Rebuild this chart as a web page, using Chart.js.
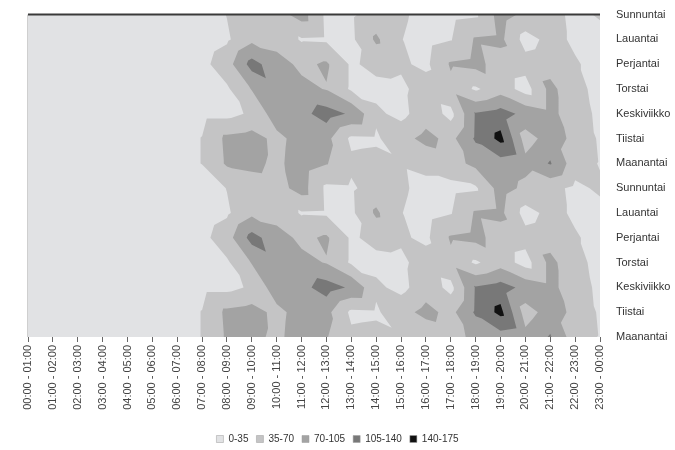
<!DOCTYPE html>
<html>
<head>
<meta charset="utf-8">
<script src="https://cdn.jsdelivr.net/npm/chart.js@4/dist/chart.umd.min.js"></script>
<style>
  html, body { margin: 0; padding: 0; background: #fff; }
  #wrap { width: 675px; height: 450px; }
</style>
</head>
<body>
<div id="wrap"><canvas id="chart" width="675" height="450"></canvas></div>
<script>
// Tunnit (x-akseli)
const hours = [
  '00:00 - 01:00', '01:00 - 02:00', '02:00 - 03:00', '03:00 - 04:00', '04:00 - 05:00', '05:00 - 06:00',
  '06:00 - 07:00', '07:00 - 08:00', '08:00 - 09:00', '09:00 - 10:00', '10:00 - 11:00', '11:00 - 12:00',
  '12:00 - 13:00', '13:00 - 14:00', '14:00 - 15:00', '15:00 - 16:00', '16:00 - 17:00', '17:00 - 18:00',
  '18:00 - 19:00', '19:00 - 20:00', '20:00 - 21:00', '21:00 - 22:00', '22:00 - 23:00', '23:00 - 00:00'
];

// Päivät ylhäältä alas, kuten kuvassa
const days = [
  'Sunnuntai', 'Lauantai', 'Perjantai', 'Torstai', 'Keskiviikko', 'Tiistai', 'Maanantai',
  'Sunnuntai', 'Lauantai', 'Perjantai', 'Torstai', 'Keskiviikko', 'Tiistai', 'Maanantai'
];

// Arvot per rivi (ylhäältä alas), 24 tuntia
const sunnuntai1   = [10, 9, 8, 8, 9, 11, 13, 15, 36, 50, 55, 85, 28, 30, 50, 40, 25, 25, 30, 85, 62, 45, 28, 38];
const lauantai1    = [11, 10, 9, 9, 10, 12, 14, 16, 30, 62, 55, 32, 30, 28, 76, 36, 22, 33, 74, 78, 22, 45, 30, 25];
const perjantai1   = [12, 11, 10, 10, 11, 13, 15, 25, 55, 118, 85, 62, 75, 30, 45, 40, 28, 74, 80, 55, 48, 55, 38, 25];
const torstai1     = [14, 12, 11, 11, 12, 14, 16, 20, 30, 72, 95, 80, 68, 30, 25, 28, 50, 60, 30, 55, 20, 80, 45, 25];
const keskiviikko1 = [15, 13, 12, 12, 13, 15, 18, 25, 25, 40, 90, 95, 120, 100, 42, 25, 55, 25, 108, 120, 95, 80, 50, 28];
const tiistai1     = [14, 13, 12, 12, 13, 15, 20, 36, 78, 85, 60, 85, 80, 28, 30, 58, 80, 60, 110, 150, 55, 85, 62, 30];
const maanantai1   = [13, 12, 11, 11, 12, 14, 20, 36, 75, 80, 62, 88, 72, 42, 45, 38, 45, 55, 80, 90, 80, 108, 50, 33];
const sunnuntai2   = [10, 9, 8, 8, 9, 11, 13, 15, 36, 50, 55, 85, 28, 30, 50, 40, 25, 25, 30, 85, 62, 45, 28, 40];
const lauantai2    = [11, 10, 9, 9, 10, 12, 14, 16, 30, 62, 55, 32, 30, 28, 76, 36, 22, 33, 74, 78, 22, 45, 30, 25];
const perjantai2   = [12, 11, 10, 10, 11, 13, 15, 25, 55, 118, 85, 62, 75, 30, 45, 40, 28, 74, 80, 55, 48, 55, 38, 25];
const torstai2     = [14, 12, 11, 11, 12, 14, 16, 20, 30, 72, 95, 80, 68, 30, 25, 28, 50, 60, 30, 55, 20, 80, 45, 25];
const keskiviikko2 = [15, 13, 12, 12, 13, 15, 18, 25, 25, 40, 90, 95, 120, 100, 42, 25, 55, 25, 108, 120, 95, 80, 50, 28];
const tiistai2     = [14, 13, 12, 12, 13, 15, 20, 36, 78, 85, 60, 85, 80, 28, 30, 58, 80, 60, 110, 150, 55, 85, 62, 30];
const maanantai2   = [13, 12, 11, 11, 12, 14, 20, 36, 75, 80, 62, 88, 72, 42, 45, 38, 45, 55, 80, 90, 80, 108, 50, 33];

const rows = [sunnuntai1, lauantai1, perjantai1, torstai1, keskiviikko1, tiistai1, maanantai1,
              sunnuntai2, lauantai2, perjantai2, torstai2, keskiviikko2, tiistai2, maanantai2];

// Tasot ja selitteet
const levels = [0, 35, 70, 105, 140];
const bandLabels = ['0-35', '35-70', '70-105', '105-140', '140-175'];
const bandColors = ['#e1e2e4', '#c4c4c5', '#a3a3a3', '#787878', '#111111'];

// Leikkaa kolmio alueeseen v >= lo (lineaarinen interpolointi)
function clipAbove(poly, lo) {
  const out = [];
  for (let n = 0; n < poly.length; n++) {
    const a = poly[n], b = poly[(n + 1) % poly.length];
    const ina = a[2] >= lo, inb = b[2] >= lo;
    if (ina) out.push(a);
    if (ina !== inb) {
      const t = (lo - a[2]) / (b[2] - a[2]);
      out.push([a[0] + t * (b[0] - a[0]), a[1] + t * (b[1] - a[1]), lo]);
    }
  }
  return out;
}

const contourPlugin = {
  id: 'contour',
  beforeDatasetsDraw(chart) {
    const { ctx, chartArea, scales: { x, y } } = chart;
    const top = rows.length - 1;
    const val = (i, j) => [i, top - j, rows[j][i]];
    ctx.save();
    levels.forEach((lo, k) => {
      ctx.beginPath();
      for (let j = 0; j < rows.length - 1; j++) {
        for (let i = 0; i < hours.length - 1; i++) {
          const p = [val(i, j), val(i + 1, j), val(i + 1, j + 1), val(i, j + 1)];
          [[p[0], p[1], p[2]], [p[0], p[2], p[3]]].forEach(tri => {
            const poly = clipAbove(tri, lo);
            if (poly.length < 3) return;
            poly.forEach((q, n) => {
              const px = x.getPixelForValue(q[0]);
              const py = y.getPixelForValue(q[1]);
              if (n) ctx.lineTo(px, py); else ctx.moveTo(px, py);
            });
            ctx.closePath();
          });
        }
      }
      ctx.fillStyle = bandColors[k];
      ctx.fill();
    });
    // reunat
    ctx.strokeStyle = '#cfcfcf';
    ctx.lineWidth = 1;
    ctx.beginPath();
    ctx.moveTo(chartArea.left - 0.5, chartArea.top);
    ctx.lineTo(chartArea.left - 0.5, chartArea.bottom);
    ctx.stroke();
    ctx.strokeStyle = '#3a3a3a';
    ctx.lineWidth = 2;
    ctx.beginPath();
    ctx.moveTo(chartArea.left, chartArea.top);
    ctx.lineTo(chartArea.right, chartArea.top);
    ctx.stroke();
    ctx.restore();
  }
};

const font = { family: '"Liberation Sans", Arial, sans-serif', size: 11 };

new Chart(document.getElementById('chart'), {
  type: 'scatter',
  data: {
    datasets: bandLabels.map((label, k) => ({
      label,
      data: [],
      backgroundColor: bandColors[k],
      borderColor: '#9a9a9a',
      borderWidth: 0.5
    }))
  },
  options: {
    responsive: false,
    animation: false,
    layout: { padding: { left: 0, right: 0, top: 13, bottom: -4 } },
    scales: {
      x: {
        type: 'linear',
        min: 0,
        max: hours.length - 1,
        afterBuildTicks: s => { s.ticks = hours.map((_, i) => ({ value: i })); },
        afterFit: s => { s.height = 89; },
        ticks: {
          autoSkip: false,
          minRotation: 90,
          maxRotation: 90,
          padding: 3,
          color: '#444',
          font,
          callback: v => hours[v]
        },
        grid: { drawOnChartArea: false, drawTicks: true, tickLength: 5, color: '#666' },
        border: { display: false }
      },
      y: {
        type: 'linear',
        position: 'right',
        min: 0,
        max: days.length - 1,
        afterBuildTicks: s => { s.ticks = days.map((_, i) => ({ value: i })); },
        afterFit: s => { s.width = 75; },
        ticks: {
          autoSkip: false,
          padding: 8,
          color: '#333',
          font,
          callback: v => days[days.length - 1 - v]
        },
        grid: { display: false },
        border: { display: false }
      },
      // tyhjä vasen marginaali
      yLeft: {
        type: 'linear',
        position: 'left',
        ticks: { display: false },
        grid: { display: false },
        border: { display: false },
        afterFit: s => { s.width = 28; }
      }
    },
    plugins: {
      legend: {
        position: 'bottom',
        labels: {
          boxWidth: 7,
          boxHeight: 7,
          padding: 8,
          color: '#333',
          font: { family: font.family, size: 10 }
        }
      },
      tooltip: { enabled: false }
    }
  },
  plugins: [contourPlugin]
});
</script>
</body>
</html>
